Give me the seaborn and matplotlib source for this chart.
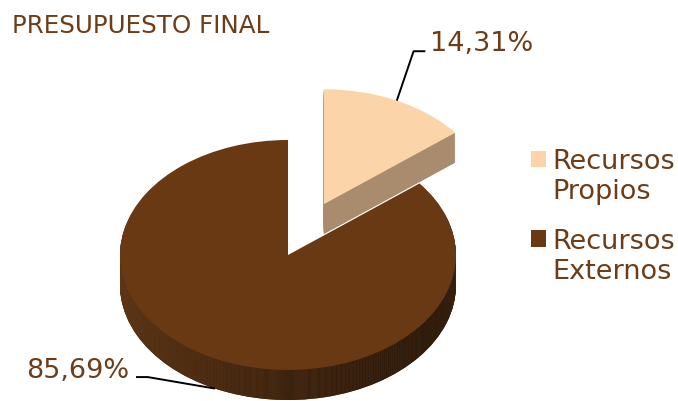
import numpy as np
import matplotlib
matplotlib.use("Agg")
import matplotlib.pyplot as plt
from matplotlib.legend_handler import HandlerPatch
from matplotlib.patches import Rectangle
import seaborn as sns

# Budget split
categories = ["Recursos\nPropios", "Recursos\nExternos"]
shares = [14.31, 85.69]
share_labels = ["14,31%", "85,69%"]

top_colors = ["#FCD4A9", "#693914"]
side_light = "#A98C6E"
side_dark_left, side_dark_right = "#5E3616", "#22150B"
text_color = "#6E3D17"

sns.set_theme(style="white")
plt.rcParams["font.family"] = ["DejaVu Sans"]

W, H = 678, 401
fig = plt.figure(figsize=(W / 100, H / 100), dpi=100)
ax = fig.add_axes([0, 0, 1, 1])

# pixel geometry of the tilted disc
cx, cy, rx, ry = 288, 255, 168, 115
depth = 30 / ry
explode = [0.49, 0.0]
start = 90

n_layers = 30
offsets = np.linspace(depth, 0, n_layers + 1)

# horizontal shading for the outer rim of the big slice
grad = np.linspace(0, 1, 256) ** 0.8
c0 = np.array(matplotlib.colors.to_rgb(side_dark_left))
c1 = np.array(matplotlib.colors.to_rgb(side_dark_right))
rim = (c0[None, :] * (1 - grad[:, None]) + c1[None, :] * grad[:, None])[None, :, :]

top_wedges = None
for i, d in enumerate(offsets):
    is_top = i == len(offsets) - 1
    cols = top_colors if is_top else [side_light, side_dark_left]
    wedges, _ = ax.pie(shares, explode=explode, startangle=start,
                       counterclock=False, colors=cols, radius=1,
                       center=(0, -d), wedgeprops=dict(linewidth=0))
    wedges[0].set_zorder(1 + i * 0.001)
    wedges[1].set_zorder(2 + i * 0.001)
    if not is_top:
        img = ax.imshow(rim, extent=(-1.02, 1.02, -1.6, 1.2), aspect="auto",
                        zorder=2 + i * 0.001 + 0.0005, interpolation="bilinear")
        img.set_clip_path(wedges[1])
    else:
        top_wedges = wedges

ax.set_aspect("auto")
ax.set_xlim(-cx / rx, (W - cx) / rx)
ax.set_ylim(-(H - cy) / ry, cy / ry)
ax.axis("off")

# value labels with leader lines anchored at each slice's middle angle
angles = np.cumsum([0] + shares)
mids = [np.deg2rad(start - (angles[k] + angles[k + 1]) / 2 * 3.6) for k in range(2)]

# small slice: anchor on the rim of its top face
m = mids[0]
sx, sy = explode[0] * np.cos(m), explode[0] * np.sin(m)
ax_pt = (sx + np.cos(m), sy + np.sin(m))
elbow = (ax_pt[0] + 0.10, ax_pt[1] + 0.43)
ax.plot([ax_pt[0], elbow[0], elbow[0] + 0.07], [ax_pt[1], elbow[1], elbow[1]],
        color="black", lw=1.4, zorder=5, solid_capstyle="butt")
ax.text(elbow[0] + 0.10, elbow[1] + 0.0, share_labels[0], fontsize=19.5,
        color=text_color, ha="left", va="baseline", zorder=6)

# large slice: anchor on the lower edge of its rim
m = mids[1]
ax_pt = (np.cos(m), np.sin(m) - depth)
elbow = (ax_pt[0] - 0.40, ax_pt[1] + 0.10)
ax.plot([ax_pt[0], elbow[0], elbow[0] - 0.07], [ax_pt[1], elbow[1], elbow[1]],
        color="black", lw=1.4, zorder=5, solid_capstyle="butt")
ax.text(elbow[0] - 0.11, elbow[1] - 0.01, share_labels[1], fontsize=19.5,
        color=text_color, ha="right", va="baseline", zorder=6)

fig.text(12 / W, 1 - 33 / H, "PRESUPUESTO FINAL", fontsize=17.7,
         color=text_color, ha="left", va="baseline")


# legend keys sit beside the first line of each two-line label
def first_line_key(legend, orig_handle, xdescent, ydescent, width, height, fontsize):
    lift = 0.69 * fontsize
    return Rectangle((-xdescent + 1.5, -ydescent + lift), width, height)


leg = fig.legend(top_wedges, categories, loc="upper left",
                 bbox_to_anchor=(529 / W, 1 - 149 / H), frameon=False,
                 fontsize=19.5, labelcolor=text_color, handlelength=0.55,
                 handleheight=0.55, handletextpad=0.3, labelspacing=0.88,
                 borderpad=0, borderaxespad=0,
                 handler_map={type(top_wedges[0]): HandlerPatch(patch_func=first_line_key)})

fig.savefig("out.png", dpi=100)
